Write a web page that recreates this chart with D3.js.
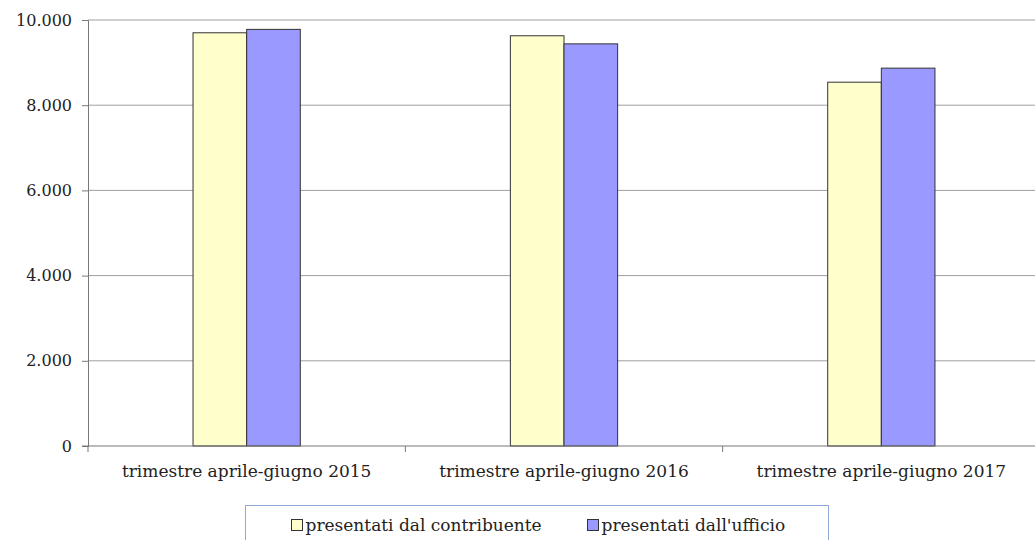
<!DOCTYPE html>
<html>
<head>
<meta charset="utf-8">
<script src="https://cdn.jsdelivr.net/npm/d3@7"></script>
<style>
  body { margin: 0; background: #fff; }
</style>
</head>
<body>
<div id="chart"></div>
<script>
// Data
const categories = ['trimestre aprile-giugno 2015', 'trimestre aprile-giugno 2016', 'trimestre aprile-giugno 2017'];
const seriesNames = ['presentati dal contribuente', "presentati dall'ufficio"];
const contribuente = [9700, 9630, 8540];
const ufficio = [9780, 9440, 8870];
const yTicks = [0, 2000, 4000, 6000, 8000, 10000];
const colors = ['#ffffcc', '#9999ff'];

const FONT = "'DejaVu Serif', serif";

const width = 1035, height = 540;
const margin = { top: 20, right: -5, bottom: 94, left: 88 };
const chartWidth = width - margin.left - margin.right;
const chartHeight = height - margin.top - margin.bottom;

const svg = d3.select('#chart').append('svg')
    .attr('width', width)
    .attr('height', height)
    .attr('font-family', FONT);

const g = svg.append('g')
    .attr('transform', `translate(${margin.left},${margin.top})`);

const x = d3.scaleBand()
    .domain(categories)
    .range([0, chartWidth])
    .paddingInner(0)
    .paddingOuter(0);

const xInner = d3.scaleBand()
    .domain(seriesNames)
    .range([x.bandwidth() * 0.331, x.bandwidth() * 0.669]);

const y = d3.scaleLinear()
    .domain([0, 10000])
    .range([chartHeight, 0]);

const fmt = d => d3.format(',')(d).replace(/,/g, '.');

// Gridlines
g.append('g')
    .selectAll('line')
    .data(yTicks.filter(d => d > 0))
    .join('line')
    .attr('x1', 0)
    .attr('x2', chartWidth)
    .attr('y1', d => y(d))
    .attr('y2', d => y(d))
    .attr('stroke', '#a0a0a0')
    .attr('stroke-width', 1);

// Bars
const rows = categories.map((c, i) => ({ cat: c, values: [contribuente[i], ufficio[i]] }));
const groups = g.selectAll('.bar-group')
    .data(rows)
    .join('g')
    .attr('class', 'bar-group')
    .attr('transform', d => `translate(${x(d.cat)},0)`);

groups.selectAll('rect')
    .data(d => d.values.map((v, j) => ({ name: seriesNames[j], value: v, j })))
    .join('rect')
    .attr('x', d => xInner(d.name))
    .attr('y', d => y(d.value))
    .attr('width', xInner.bandwidth())
    .attr('height', d => chartHeight - y(d.value))
    .attr('fill', d => colors[d.j])
    .attr('stroke', '#333')
    .attr('stroke-width', 1);

// Y axis
const yAxis = g.append('g')
    .call(d3.axisLeft(y).tickValues(yTicks).tickFormat(fmt).tickSize(6).tickPadding(10))
    .attr('font-family', FONT)
    .attr('font-size', 16);
yAxis.select('.domain').attr('stroke', '#777');
yAxis.selectAll('.tick line').attr('stroke', '#777');
yAxis.selectAll('.tick text').attr('fill', '#222');

// X axis
const xAxisG = g.append('g')
    .attr('transform', `translate(0,${chartHeight})`);
xAxisG.append('line')
    .attr('x1', -6).attr('x2', chartWidth)
    .attr('stroke', '#777');
xAxisG.selectAll('.xtick')
    .data(categories)
    .join('line')
    .attr('class', 'xtick')
    .attr('x1', d => x(d))
    .attr('x2', d => x(d))
    .attr('y1', 0)
    .attr('y2', 6)
    .attr('stroke', '#777');
xAxisG.selectAll('.xlabel')
    .data(categories)
    .join('text')
    .attr('class', 'xlabel')
    .attr('x', d => x(d) + x.bandwidth() / 2)
    .attr('y', 31)
    .attr('text-anchor', 'middle')
    .attr('font-size', 17)
    .attr('fill', '#222')
    .text(d => d);

// Legend
const legend = svg.append('g')
    .attr('transform', 'translate(245.5,505.5)');
legend.append('rect')
    .attr('width', 583)
    .attr('height', 40)
    .attr('fill', '#fff')
    .attr('stroke', '#8eaadb');

const legendX = [46, 342];
seriesNames.forEach((name, i) => {
    const item = legend.append('g')
        .attr('transform', `translate(${legendX[i]},0)`);
    item.append('rect')
        .attr('x', 0)
        .attr('y', 14)
        .attr('width', 11)
        .attr('height', 11)
        .attr('fill', colors[i])
        .attr('stroke', '#333');
    item.append('text')
        .attr('x', 14)
        .attr('y', 25)
        .attr('font-size', 17)
        .attr('fill', '#222')
        .text(name);
});
</script>
</body>
</html>
